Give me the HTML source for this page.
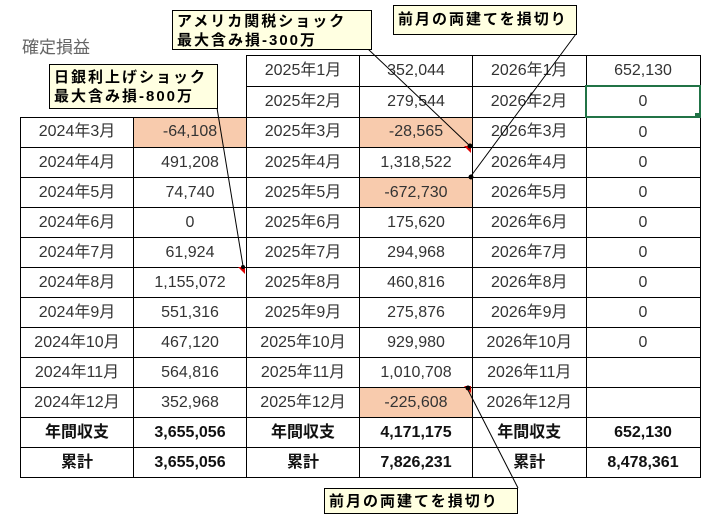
<!DOCTYPE html>
<html><head><meta charset="utf-8"><style>
body{margin:0;width:714px;height:523px;background:#fff;position:relative;overflow:hidden;font-family:"Liberation Sans","Noto Sans CJK JP",sans-serif;}
table{position:absolute;left:20px;top:55px;border-collapse:collapse;table-layout:fixed;}
td{width:112px;height:29px;border:1px solid #000;text-align:center;font-size:16px;line-height:16px;vertical-align:middle;color:#333;padding:0;}
td span{display:inline-block;line-height:16px;height:16px;vertical-align:middle;}
td.e{border:none;}
td.h{background:#f8cbad;}
tr.b td{font-weight:bold;color:#111;}
.title{position:absolute;left:22px;top:33px;font-size:17px;color:#666;}
.box{position:absolute;background:#ffffe1;border:1px solid #000;font-size:15px;font-weight:bold;letter-spacing:2px;line-height:19px;padding:1px 4px;color:#000;box-sizing:border-box;}
</style></head><body>
<div class="title">確定損益</div>
<table>
<tr><td class="e"></td><td class="e"></td><td>2025年1月</td><td>352,044</td><td>2026年1月</td><td>652,130</td></tr>
<tr><td class="e"></td><td class="e"></td><td>2025年2月</td><td>279,544</td><td>2026年2月</td><td style="border:2px solid #217346">0</td></tr>
<tr><td>2024年3月</td><td class="h">-64,108</td><td>2025年3月</td><td class="h">-28,565</td><td>2026年3月</td><td>0</td></tr>
<tr><td>2024年4月</td><td>491,208</td><td>2025年4月</td><td>1,318,522</td><td>2026年4月</td><td>0</td></tr>
<tr><td>2024年5月</td><td>74,740</td><td>2025年5月</td><td class="h">-672,730</td><td>2026年5月</td><td>0</td></tr>
<tr><td>2024年6月</td><td>0</td><td>2025年6月</td><td>175,620</td><td>2026年6月</td><td>0</td></tr>
<tr><td>2024年7月</td><td>61,924</td><td>2025年7月</td><td>294,968</td><td>2026年7月</td><td>0</td></tr>
<tr><td>2024年8月</td><td>1,155,072</td><td>2025年8月</td><td>460,816</td><td>2026年8月</td><td>0</td></tr>
<tr><td>2024年9月</td><td>551,316</td><td>2025年9月</td><td>275,876</td><td>2026年9月</td><td>0</td></tr>
<tr><td>2024年10月</td><td>467,120</td><td>2025年10月</td><td>929,980</td><td>2026年10月</td><td>0</td></tr>
<tr><td>2024年11月</td><td>564,816</td><td>2025年11月</td><td>1,010,708</td><td>2026年11月</td><td></td></tr>
<tr><td>2024年12月</td><td>352,968</td><td>2025年12月</td><td class="h">-225,608</td><td>2026年12月</td><td></td></tr>
<tr class="b"><td>年間収支</td><td>3,655,056</td><td>年間収支</td><td>4,171,175</td><td>年間収支</td><td>652,130</td></tr>
<tr class="b"><td>累計</td><td>3,655,056</td><td>累計</td><td>7,826,231</td><td>累計</td><td>8,478,361</td></tr>
</table>
<svg style="position:absolute;left:0;top:0" width="714" height="523">
<g stroke="#000" stroke-width="1" fill="none">
<line x1="368" y1="49" x2="470" y2="146"/>
<line x1="217" y1="108" x2="243" y2="266"/>
<line x1="576" y1="34" x2="471" y2="176"/>
<line x1="518" y1="488" x2="468" y2="390"/>
</g>
<g fill="#e00000">
<polygon points="238,267 245,267 245,274"/>
<polygon points="464,146 471,146 471,153"/>
<polygon points="464,386 471,386 471,393"/>
</g>
<g fill="#000">
<circle cx="470" cy="146" r="2.5"/><circle cx="471" cy="177" r="2.5"/><circle cx="468" cy="388" r="2.5"/><circle cx="243" cy="267" r="2"/>
</g>
<rect x="695" y="113" width="5" height="5" fill="#217346"/>
</svg>
<div class="box" style="left:172px;top:10px;width:200px;height:40px;">アメリカ関税ショック<br>最大含み損-300万</div>
<div class="box" style="left:49px;top:64px;width:169px;height:45px;padding-top:3px;">日銀利上げショック<br>最大含み損-800万</div>
<div class="box" style="left:393px;top:5px;width:184px;height:30px;padding-top:4px;">前月の両建てを損切り</div>
<div class="box" style="left:324px;top:488px;width:194px;height:26px;padding-top:3px;">前月の両建てを損切り</div>
</body></html>
